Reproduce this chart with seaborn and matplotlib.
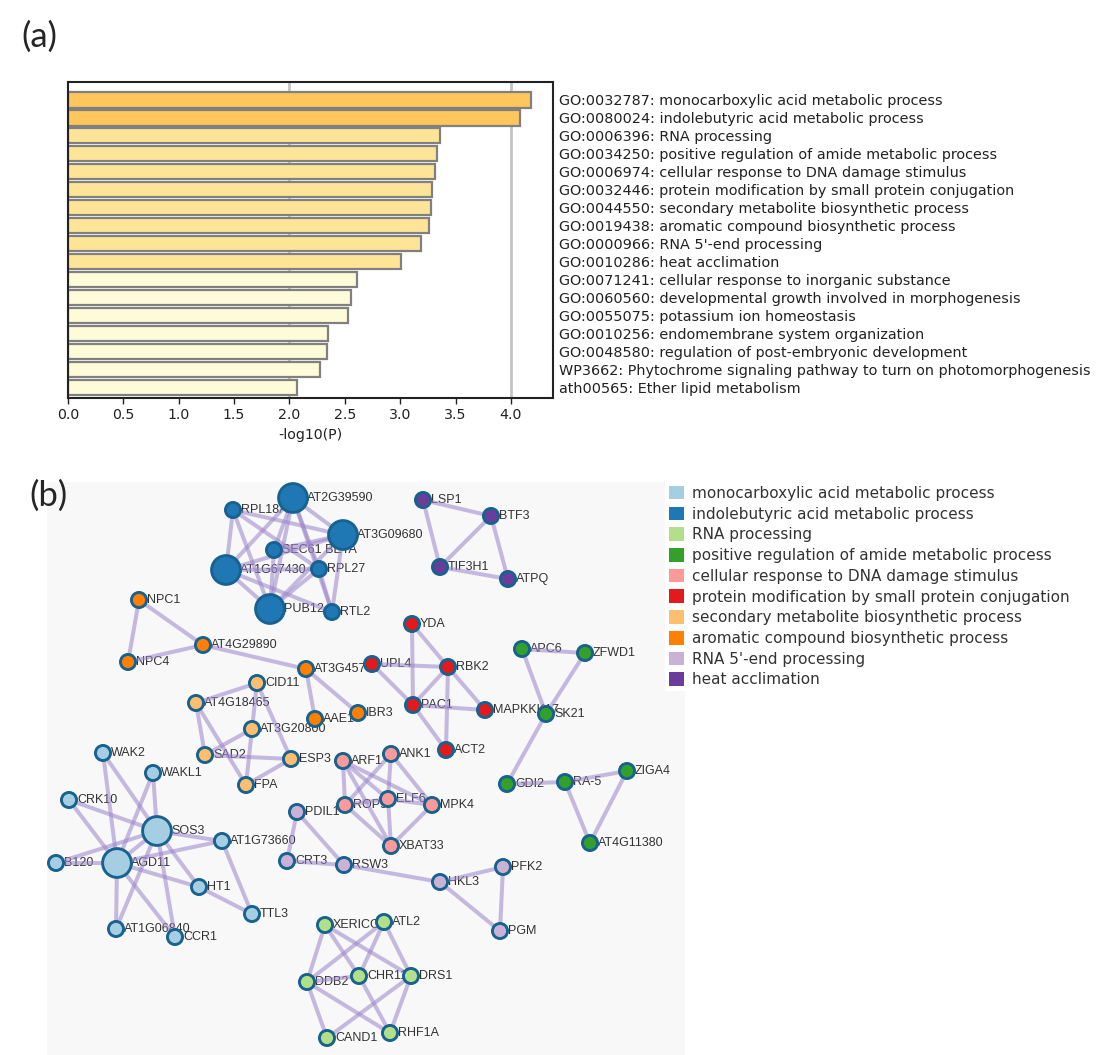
import matplotlib
matplotlib.use("Agg")
import matplotlib.pyplot as plt
from matplotlib.patches import Patch, Rectangle
import pandas as pd
import seaborn as sns

sns.set_theme(style="white")
plt.rcParams['font.family'] = ['DejaVu Sans']

# ---------------- (a) dados do enriquecimento ----------------
termos = [
    "GO:0032787: monocarboxylic acid metabolic process",
    "GO:0080024: indolebutyric acid metabolic process",
    "GO:0006396: RNA processing",
    "GO:0034250: positive regulation of amide metabolic process",
    "GO:0006974: cellular response to DNA damage stimulus",
    "GO:0032446: protein modification by small protein conjugation",
    "GO:0044550: secondary metabolite biosynthetic process",
    "GO:0019438: aromatic compound biosynthetic process",
    "GO:0000966: RNA 5'-end processing",
    "GO:0010286: heat acclimation",
    "GO:0071241: cellular response to inorganic substance",
    "GO:0060560: developmental growth involved in morphogenesis",
    "GO:0055075: potassium ion homeostasis",
    "GO:0010256: endomembrane system organization",
    "GO:0048580: regulation of post-embryonic development",
    "WP3662: Phytochrome signaling pathway to turn on photomorphogenesis",
    "ath00565: Ether lipid metabolism",
]
log_p = [4.18, 4.08, 3.36, 3.33, 3.31, 3.29, 3.28, 3.26, 3.19, 3.01,
         2.61, 2.56, 2.53, 2.35, 2.34, 2.28, 2.07]
cores_barras = ['#fec65b'] * 2 + ['#fee497'] * 8 + ['#fefbd8'] * 7

# ---------------- (b) dados da rede ----------------
clusters = [
    "monocarboxylic acid metabolic process",
    "indolebutyric acid metabolic process",
    "RNA processing",
    "positive regulation of amide metabolic process",
    "cellular response to DNA damage stimulus",
    "protein modification by small protein conjugation",
    "secondary metabolite biosynthetic process",
    "aromatic compound biosynthetic process",
    "RNA 5'-end processing",
    "heat acclimation",
]

nos = ["AT2G39590", "RPL18A", "AT3G09680", "SEC61 BETA", "AT1G67430", "RPL27", "PUB12", "RTL2",
       "LSP1", "BTF3", "TIF3H1", "ATPQ",
       "YDA", "UPL4", "RBK2", "PAC1", "MAPKKK17", "ACT2",
       "APC6", "ZFWD1", "SK21", "GDI2", "RA-5", "ZIGA4", "AT4G11380",
       "NPC1", "AT4G29890", "NPC4", "AT3G45770", "AAE1", "IBR3",
       "CID11", "AT4G18465", "AT3G20800", "SAD2", "ESP3", "FPA",
       "ARF1", "ANK1", "ELF6", "ROP9", "MPK4", "XBAT33",
       "PDIL1", "CRT3", "RSW3", "HKL3", "PFK2", "PGM",
       "WAK2", "WAKL1", "CRK10", "SOS3", "AT1G73660", "B120", "AGD11", "HT1", "TTL3", "AT1G06840", "CCR1",
       "XERICO", "ATL2", "CHR11", "DRS1", "DDB2", "RHF1A", "CAND1"]
no_x = [293, 233, 343, 274, 226, 319, 270, 332,
        423, 491, 440, 508,
        412, 372, 448, 413, 485, 446,
        522, 585, 546, 507, 565, 627, 590,
        139, 203, 128, 306, 315, 358,
        257, 196, 252, 205, 291, 246,
        343, 391, 388, 345, 432, 391,
        297, 287, 344, 440, 503, 500,
        103, 153, 69, 157, 222, 56, 117, 199, 252, 116, 175,
        325, 384, 359, 411, 307, 390, 327]
no_y = [498, 510, 535, 550, 570, 569, 609, 612,
        500, 516, 567, 579,
        624, 664, 667, 705, 710, 750,
        649, 653, 714, 784, 782, 771, 843,
        600, 645, 662, 669, 719, 713,
        683, 703, 729, 755, 759, 785,
        761, 754, 799, 805, 805, 846,
        812, 861, 865, 882, 867, 931,
        753, 773, 800, 831, 841, 863, 863, 887, 914, 929, 937,
        925, 922, 976, 976, 982, 1033, 1038]
no_cluster = [1] * 8 + [9] * 4 + [5] * 6 + [3] * 7 + [7] * 6 + [6] * 6 + [4] * 6 + [8] * 6 + [0] * 11 + [2] * 7
nos_grandes = ["AT2G39590", "AT3G09680", "AT1G67430", "PUB12", "SOS3", "AGD11"]

arestas = [
    ("AT2G39590", "AT3G09680"), ("AT2G39590", "AT1G67430"), ("AT2G39590", "PUB12"),
    ("AT2G39590", "SEC61 BETA"), ("AT2G39590", "RPL27"), ("AT2G39590", "RTL2"),
    ("RPL18A", "AT3G09680"), ("RPL18A", "AT1G67430"), ("RPL18A", "PUB12"), ("RPL18A", "RPL27"),
    ("AT3G09680", "SEC61 BETA"), ("AT3G09680", "AT1G67430"), ("AT3G09680", "PUB12"),
    ("AT3G09680", "RTL2"), ("SEC61 BETA", "PUB12"), ("AT1G67430", "RPL27"),
    ("AT1G67430", "PUB12"), ("AT1G67430", "RTL2"), ("PUB12", "RPL27"), ("RPL27", "RTL2"),
    ("LSP1", "BTF3"), ("LSP1", "TIF3H1"), ("BTF3", "TIF3H1"), ("BTF3", "ATPQ"), ("TIF3H1", "ATPQ"),
    ("YDA", "PAC1"), ("YDA", "RBK2"), ("UPL4", "RBK2"), ("UPL4", "PAC1"), ("RBK2", "PAC1"),
    ("RBK2", "ACT2"), ("RBK2", "MAPKKK17"), ("PAC1", "MAPKKK17"), ("PAC1", "ACT2"),
    ("APC6", "ZFWD1"), ("APC6", "SK21"), ("ZFWD1", "SK21"), ("SK21", "GDI2"), ("GDI2", "RA-5"),
    ("RA-5", "ZIGA4"), ("RA-5", "AT4G11380"), ("ZIGA4", "AT4G11380"),
    ("NPC1", "AT4G29890"), ("NPC1", "NPC4"), ("NPC4", "AT4G29890"), ("AT4G29890", "AT3G45770"),
    ("AT3G45770", "AAE1"), ("AT3G45770", "IBR3"),
    ("CID11", "AT4G18465"), ("CID11", "AT3G20800"), ("CID11", "ESP3"), ("AT4G18465", "SAD2"),
    ("AT4G18465", "FPA"), ("AT3G20800", "SAD2"), ("AT3G20800", "FPA"), ("SAD2", "ESP3"), ("ESP3", "FPA"),
    ("ARF1", "ROP9"), ("ARF1", "ELF6"), ("ARF1", "MPK4"), ("ARF1", "XBAT33"), ("ANK1", "ROP9"),
    ("ANK1", "ELF6"), ("ANK1", "MPK4"), ("ROP9", "ELF6"), ("ROP9", "XBAT33"), ("ELF6", "MPK4"),
    ("ELF6", "XBAT33"), ("MPK4", "XBAT33"),
    ("PDIL1", "CRT3"), ("PDIL1", "RSW3"), ("CRT3", "RSW3"), ("RSW3", "HKL3"), ("HKL3", "PFK2"),
    ("HKL3", "PGM"), ("PFK2", "PGM"),
    ("WAK2", "SOS3"), ("WAK2", "AGD11"), ("WAKL1", "SOS3"), ("WAKL1", "AGD11"), ("CRK10", "SOS3"),
    ("CRK10", "AGD11"), ("SOS3", "AT1G73660"), ("SOS3", "B120"), ("SOS3", "AGD11"), ("SOS3", "HT1"),
    ("SOS3", "CCR1"), ("SOS3", "AT1G06840"), ("AGD11", "B120"), ("AGD11", "AT1G73660"),
    ("AGD11", "HT1"), ("AGD11", "AT1G06840"), ("AGD11", "CCR1"), ("AT1G73660", "TTL3"), ("HT1", "TTL3"),
    ("XERICO", "DDB2"), ("XERICO", "CHR11"), ("XERICO", "DRS1"), ("ATL2", "DDB2"), ("ATL2", "CHR11"),
    ("ATL2", "DRS1"), ("DDB2", "CHR11"), ("DDB2", "CAND1"), ("DDB2", "RHF1A"), ("CHR11", "RHF1A"),
    ("DRS1", "CAND1"), ("DRS1", "RHF1A"),
]

# ---------------- figura ----------------
W, H = 1105, 1055
fig = plt.figure(figsize=(W / 100, H / 100), dpi=100)

# (a) barras
ax_a = fig.add_axes([68 / W, 1 - 398 / H, (553 - 68) / W, (398 - 82) / H])
df_a = pd.DataFrame({'termo': termos, 'logp': log_p})
sns.barplot(data=df_a, x='logp', y='termo', hue='termo', palette=cores_barras, legend=False,
            saturation=1, width=0.85, edgecolor='#808080', linewidth=1.6, ax=ax_a, zorder=2)
for v in [2.0, 4.0]:
    ax_a.axvline(v, color='#c4c4c4', lw=2, zorder=0)
ax_a.set_xlim(0, 4.38)
ax_a.set_ylim(16.6, -1.0)
ax_a.set_xticks([0, 0.5, 1, 1.5, 2, 2.5, 3, 3.5, 4])
ax_a.set_xticklabels(['0.0', '0.5', '1.0', '1.5', '2.0', '2.5', '3.0', '3.5', '4.0'])
ax_a.yaxis.tick_right()
ax_a.tick_params(axis='y', length=0, pad=4, labelsize=10.4, colors='#222222')
ax_a.tick_params(axis='x', length=4, width=1, labelsize=10.2, colors='#222222', bottom=True)
ax_a.set_ylabel('')
ax_a.set_xlabel('-log10(P)', fontsize=10.2, color='#222222')
for s in ax_a.spines.values():
    s.set_color('#222222')
    s.set_linewidth(1.5)

# (b) rede
ax_b = fig.add_axes([47 / W, 0, (W - 47) / W, (H - 478) / H])
ax_b.set_xlim(47, W)
ax_b.set_ylim(H, 478)
ax_b.axis('off')
ax_b.add_patch(Rectangle((47, 482), 685 - 47, H - 482, facecolor='#f8f8f8', edgecolor='none', zorder=0))

paleta = dict(zip(clusters, sns.color_palette("Paired", 10)))
df_b = pd.DataFrame({'no': nos, 'x': no_x, 'y': no_y,
                     'cluster': [clusters[i] for i in no_cluster]})
df_b['tam'] = ['grande' if n in nos_grandes else 'pequeno' for n in nos]
pos = {n: (x, y) for n, x, y in zip(nos, no_x, no_y)}

for a, b in arestas:
    ax_b.plot([pos[a][0], pos[b][0]], [pos[a][1], pos[b][1]], color='#9c84cb',
              alpha=0.55, lw=2.9, solid_capstyle='butt', zorder=2)

sns.scatterplot(data=df_b, x='x', y='y', hue='cluster', palette=paleta, size='tam',
                sizes={'grande': 430, 'pequeno': 118}, edgecolor='#17628f', linewidth=2.1,
                legend=False, ax=ax_b, zorder=3)

deslocamento = {'grande': 14, 'pequeno': 8}
for _, r in df_b.iterrows():
    ax_b.text(r['x'] + deslocamento[r['tam']], r['y'], r['no'], fontsize=9,
              family='Liberation Sans', color='#333333', va='center', ha='left', zorder=1.5)

alcas = [Patch(facecolor=paleta[c], edgecolor='none') for c in clusters]
leg = ax_b.legend(alcas, clusters, loc='upper left', bbox_to_anchor=(665 / W, 1 - 482 / H),
                  bbox_transform=fig.transFigure, borderaxespad=0, borderpad=0.25,
                  handlelength=1.0, handleheight=1.0, handletextpad=0.5, labelspacing=0.37,
                  fontsize=11, frameon=True, fancybox=False)
leg.get_frame().set_facecolor('white')
leg.get_frame().set_edgecolor('none')
leg.get_frame().set_alpha(1)
for t in leg.get_texts():
    t.set_color('#333333')

fig.text(21 / W, 1 - 37 / H, '(a)', fontsize=25, family='Lato', va='center', ha='left')
fig.text(29 / W, 1 - 496 / H, '(b)', fontsize=25, family='Lato', va='center', ha='left')

fig.savefig('out.png', dpi=100)
